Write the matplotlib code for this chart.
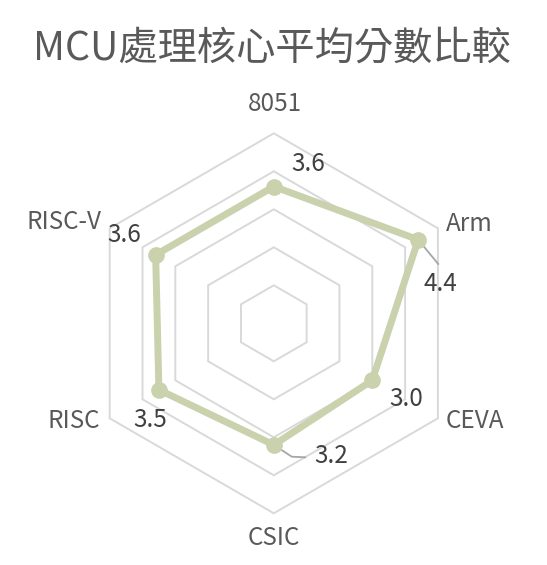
import numpy as np
import matplotlib
matplotlib.use("Agg")
import matplotlib.pyplot as plt
from matplotlib.patches import Polygon

plt.rcParams['font.family'] = ['Noto Sans CJK TC', 'DejaVu Sans']

title = "MCU處理核心平均分數比較"
categories = ["8051", "Arm", "CEVA", "CSIC", "RISC", "RISC-V"]
values = [3.6, 4.4, 3.0, 3.2, 3.5, 3.6]
ring_levels = [1, 2, 3, 4, 5]

W, H = 547, 565
fig = plt.figure(figsize=(W / 100, H / 100), dpi=100)
ax = fig.add_axes([0, 0, 1, 1])

# pixel geometry of the reference
cx, cy = 273.8, 565 - 323.3
sy = 38.0
sx = 37.9
ax.set_xlim(-cx / sx, (W - cx) / sx)
ax.set_ylim(-cy / sy, (H - cy) / sy)
ax.axis('off')

n = len(categories)
theta = np.arange(n) * 2 * np.pi / n
ux, uy = np.sin(theta), np.cos(theta)

grid_col = '#d9d9d9'
for r in ring_levels:
    ax.add_patch(Polygon(np.column_stack([r * ux, r * uy]), closed=True, fill=False,
                         edgecolor=grid_col, lw=1.4, zorder=1))

v = np.array(values)
ax.add_patch(Polygon(np.column_stack([v * ux, v * uy]), closed=True, fill=False,
                     edgecolor='#c9d1ad', lw=5, joinstyle='round', zorder=3))
ax.plot(v * ux, v * uy, 'o', color='#c9d1ad', ms=11, zorder=4)

PT = 0.72  # points per pixel at dpi 100
R = ring_levels[-1]
# category labels: (offset px dx, dy, ha, va)
cat_pos = [(1.5, 16, 'center', 'bottom'),
           (8, 4, 'left', 'center'),
           (8, -3, 'left', 'center'),
           (0, -12, 'center', 'top'),
           (-10, -3, 'right', 'center'),
           (-8, 6, 'right', 'center')]
for i, c in enumerate(categories):
    dx, dy, ha, va = cat_pos[i]
    ax.annotate(c, (R * ux[i], R * uy[i]), xytext=(dx * PT, dy * PT), textcoords='offset points',
                ha=ha, va=va, fontsize=17.5, color='#595959')

# data label offsets from markers, in pixels
lab_off = [(34.2, 22.5), (21.7, -44.5), (34.2, -19), (57.9, -10.9), (-9.1, -30.4), (-31.3, 19.9)]
for i, val in enumerate(values):
    px, py = lab_off[i]
    ax.annotate(f"{val:.1f}", (v[i] * ux[i], v[i] * uy[i]),
                xytext=(px * PT, py * PT), textcoords='offset points',
                ha='center', va='center', fontsize=17.5, color='#404040', zorder=5)

# leader lines (pixel offsets from the marker)
def leader(i, pts):
    x0, y0 = v[i] * ux[i], v[i] * uy[i]
    xs = [x0] + [x0 + p[0] / sx for p in pts]
    ys = [y0] + [y0 + p[1] / sy for p in pts]
    ax.plot(xs, ys, color='#a6a6a6', lw=1.3, zorder=2)

leader(1, [(20, -24.3)])
leader(3, [(18, -11.8), (31.5, -12.4)])

fig.text(271.9 / W, 1 - 48.5 / H, title, ha='center', va='center', fontsize=28.3, color='#595959')

fig.savefig('out.png', dpi=100, facecolor='white')
